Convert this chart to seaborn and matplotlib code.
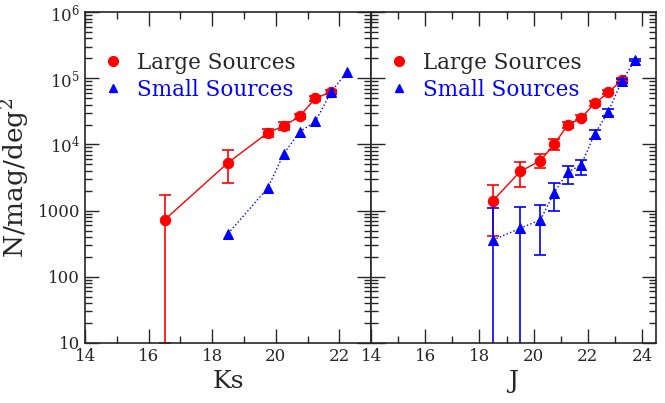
"""Number counts of large and small sources in Ks and J."""

import matplotlib.pyplot as plt
import matplotlib.ticker as mticker
import numpy as np
import pandas as pd
import seaborn as sns

# Ks panel
ks_large_mag = [16.5, 18.5, 19.75, 20.25, 20.75, 21.25, 21.75]
ks_large_n = [725, 5300, 15000, 19000, 26500, 50000, 62000]
ks_large_lo = [715, 2700, 2000, 2200, 2500, 4000, 4500]
ks_large_hi = [1015, 2800, 2300, 2500, 2800, 4500, 5000]

ks_small_mag = [18.5, 19.75, 20.25, 20.75, 21.25, 21.75, 22.25]
ks_small_n = [450, 2200, 7200, 15500, 22300, 63000, 126000]

# J panel
j_large_mag = [18.5, 19.5, 20.25, 20.75, 21.25, 21.75, 22.25, 22.75, 23.25]
j_large_n = [1420, 3900, 5700, 10000, 19500, 25200, 41600, 61000, 94000]
j_large_lo = [1005, 1600, 1300, 1700, 1800, 2000, 3000, 4000, 5000]
j_large_hi = [1030, 1600, 1400, 2000, 2000, 2200, 3500, 4500, 6000]

j_small_mag = [18.5, 19.5, 20.25, 20.75, 21.25, 21.75, 22.25, 22.75, 23.25, 23.75]
j_small_n = [360, 540, 725, 1850, 3800, 4900, 14400, 31000, 91000, 190000]
j_small_lo = [359.9, 539.9, 515, 850, 1300, 1400, 2400, 4000, 6000, 8000]
j_small_hi = [740, 600, 505, 750, 1000, 1000, 1900, 3000, 6000, 8000]

ytick_vals = [10, 100, 1000, 1e4, 1e5, 1e6]
ytick_labels = ["10", "100", "1000", r"10$^4$", r"10$^5$", r"10$^6$"]

marker_sizes = {"o": 7.5, "^": 6.5}


def style_axis(ax, xmax, xlabel):
    ax.set_yscale("log")
    ax.set_ylim(10, 1e6)
    ax.set_xlim(14, xmax)
    ax.xaxis.set_major_locator(mticker.MultipleLocator(2))
    ax.xaxis.set_minor_locator(mticker.MultipleLocator(1))
    ax.yaxis.set_major_locator(mticker.FixedLocator(ytick_vals))
    ax.yaxis.set_minor_locator(mticker.LogLocator(base=10, subs=np.arange(2, 10)))
    ax.tick_params(which="both", direction="in", top=True, right=True, labelsize=12)
    ax.tick_params(which="major", length=10, width=1)
    ax.tick_params(which="minor", length=5, width=1)
    ax.set_xlabel(xlabel, fontsize=18)
    for s in ax.spines.values():
        s.set_linewidth(1.2)


def draw_series(ax, mag, n, color, marker, ls, lo=None, hi=None, label=None):
    df = pd.DataFrame({"mag": mag, "n": n})
    if lo is not None:
        ax.errorbar(mag, n, yerr=[lo, hi], fmt="none", ecolor=color,
                    elinewidth=1.2, capsize=4, capthick=1.2)
    sns.lineplot(data=df, x="mag", y="n", ax=ax, color=color, linestyle=ls,
                 linewidth=1.0, marker=marker, markersize=marker_sizes[marker],
                 markeredgecolor=color, label=label, legend=False)


sns.set_style("ticks")
plt.rcParams["font.family"] = ["DejaVu Serif"]
plt.rcParams["mathtext.fontset"] = "dejavuserif"

fig = plt.figure(figsize=(6.65, 4.03), dpi=100)
ax1 = fig.add_axes([0.128, 0.149, 0.430, 0.821])
ax2 = fig.add_axes([0.558, 0.149, 0.428, 0.821], sharey=ax1)

draw_series(ax1, ks_large_mag, ks_large_n, "red", "o", "-", ks_large_lo, ks_large_hi,
            label="Large Sources")
draw_series(ax1, ks_small_mag, ks_small_n, "blue", "^", ":", label="Small Sources")
draw_series(ax2, j_large_mag, j_large_n, "red", "o", "-", j_large_lo, j_large_hi,
            label="Large Sources")
draw_series(ax2, j_small_mag, j_small_n, "blue", "^", ":", j_small_lo, j_small_hi,
            label="Small Sources")

style_axis(ax1, 23, "Ks")
style_axis(ax2, 24.5, "J")
ax1.set_yticklabels(ytick_labels)
ax2.tick_params(axis="y", labelleft=False)
ax1.set_ylabel("N/mag/deg$^2$", fontsize=19)
ax2.set_ylabel("")

for ax in (ax1, ax2):
    handles, labels = ax.get_legend_handles_labels()
    handles = [plt.Line2D([], [], color=h.get_color(), marker=h.get_marker(),
                          linestyle="none", markersize=6 if h.get_marker() == "^" else 7)
               for h in handles]
    leg = ax.legend(handles, labels, loc="upper left", bbox_to_anchor=(0.0, 0.925),
                    frameon=False, fontsize=15.5, handletextpad=0.5,
                    handlelength=1.2, labelspacing=0.22, borderaxespad=0.3)
    leg.get_texts()[1].set_color("blue")

fig.savefig("out.png", dpi=100)
